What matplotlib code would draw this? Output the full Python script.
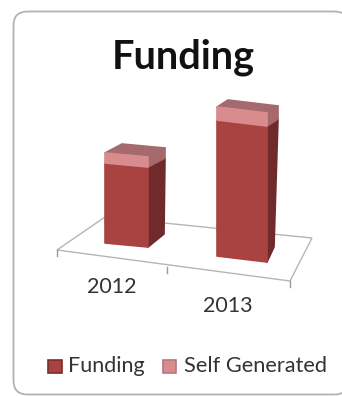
# plot.py - stacked funding columns drawn as pseudo 3D boxes

import matplotlib
matplotlib.use("Agg")
import matplotlib.pyplot as plt
from matplotlib.patches import FancyBboxPatch, Polygon, Rectangle

years = ["2012", "2013"]
funding = [80, 136]
self_generated = [10, 13]

plt.rcParams["font.family"] = ["Lato", "DejaVu Sans"]

# floor and column placement, in canvas pixels
FLOOR = [(57, 250), (290, 281), (312, 238), (105, 217)]
FLOOR_TICKS = [(57, 250), (167, 267), (290, 281)]
COLUMN_FEET = [((105, 243), (148, 247)), ((217, 256), (267, 262))]
FOOT_DEPTH = [(16, -13), (7, -15)]
TOP_DEPTH = [(17, -9), (11, -7)]
YEAR_LABELS = [(112, 287), (228, 306)]

FUNDING_FRONT = "#a94341"
FUNDING_SIDE = "#6f2b2b"
SELF_FRONT = "#d98c8e"
SELF_SIDE = "#a9686b"
SELF_TOP = "#a56a6e"
TEXT_COLOR = "#333333"


def lift(point, height):
    return (point[0], point[1] - height)


def shift(point, depth):
    return (point[0] + depth[0], point[1] + depth[1])


def face(ax, corners, color):
    # same-coloured round-joined edge softens the box corners a little
    ax.add_patch(Polygon(corners, fc=color, ec=color, lw=1.2, joinstyle="round"))


def draw_column(ax, feet, foot_depth, top_depth, base, cap):
    left, right = feet
    mid_l, mid_r = lift(left, base), lift(right, base)
    top_l, top_r = lift(left, base + cap), lift(right, base + cap)

    # side faces first, the back edge narrows towards the top
    back_foot = shift(right, foot_depth)
    back_mid = shift(mid_r, top_depth)
    back_top = shift(top_r, top_depth)
    face(ax, [right, back_foot, back_mid, mid_r], FUNDING_SIDE)
    face(ax, [mid_r, back_mid, back_top, top_r], SELF_SIDE)
    face(ax, [top_l, top_r, back_top, shift(top_l, top_depth)], SELF_TOP)

    face(ax, [left, right, mid_r, mid_l], FUNDING_FRONT)
    face(ax, [mid_l, mid_r, top_r, top_l], SELF_FRONT)


fig = plt.figure(figsize=(3.42, 3.96), dpi=100)
ax = fig.add_axes([0, 0, 1, 1])
ax.set_xlim(0, 342)
ax.set_ylim(396, 0)
ax.axis("off")

# rounded chart frame, runs off the right edge of the canvas
ax.add_patch(FancyBboxPatch((13.5, 11.5), 335, 383, boxstyle="round,pad=0,rounding_size=14",
                            fc="white", ec="#b2b2b2", lw=1.3))

ax.text(183, 57, "Funding", ha="center", va="center", fontsize=28.5, fontweight="bold", color="#111111")

# floor outline with the category ticks
ax.add_patch(Polygon(FLOOR, closed=True, fc="white", ec="#b5b5b5", lw=1.0))
for x, y in FLOOR_TICKS:
    ax.plot([x, x], [y, y + 6], color="#9a9a9a", lw=1.0)

for i, year in enumerate(years):
    draw_column(ax, COLUMN_FEET[i], FOOT_DEPTH[i], TOP_DEPTH[i], funding[i], self_generated[i])
    ax.text(*YEAR_LABELS[i], year, ha="center", va="center", fontsize=15.5, color=TEXT_COLOR)

# legend
ax.add_patch(Rectangle((47.5, 359.5), 14, 13, fc=FUNDING_FRONT, ec="#7d2c2b", lw=1.2))
ax.text(68, 366, "Funding", va="center", fontsize=15.5, color=TEXT_COLOR)
ax.add_patch(Rectangle((162.5, 359.5), 13, 13, fc=SELF_FRONT, ec="#b87679", lw=1.2))
ax.text(184, 366, "Self Generated", va="center", fontsize=15.7, color=TEXT_COLOR)

fig.savefig("out.png", dpi=100)
